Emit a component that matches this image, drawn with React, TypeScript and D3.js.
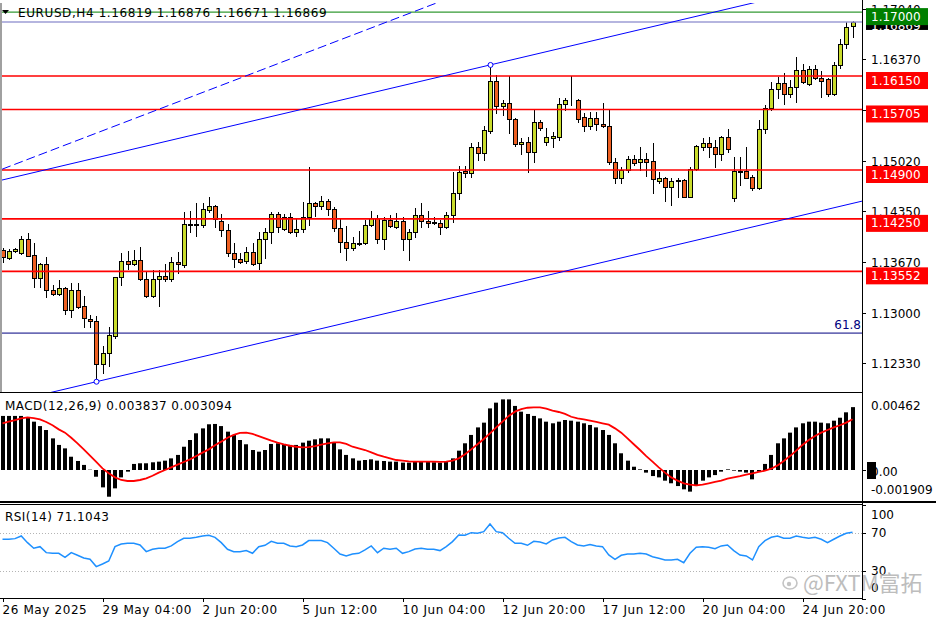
import React, { useRef, useEffect } from 'react';
import * as d3 from 'd3';

// EURUSD H4 candles (oldest first)
const opens = [
  1.13836, 1.13734, 1.13823, 1.13792, 1.13982, 1.13766, 1.13460, 1.13650, 1.13300, 1.13247,
  1.13327, 1.13038, 1.13300, 1.13091, 1.12914, 1.12896, 1.12320, 1.12462, 1.12696, 1.13473,
  1.13694, 1.13646, 1.13703, 1.13446, 1.13224, 1.13446, 1.13486, 1.13450, 1.13680, 1.13637,
  1.14182, 1.14173, 1.14169, 1.14364, 1.14417, 1.14226, 1.14098, 1.13796, 1.13712, 1.13686,
  1.13805, 1.13659, 1.13978, 1.14075, 1.14311, 1.14111, 1.14271, 1.14079, 1.14111, 1.14271,
  1.14457, 1.14421, 1.14484, 1.14377, 1.14125, 1.13946, 1.13859, 1.13916, 1.13925, 1.14169,
  1.14258, 1.13978, 1.14235, 1.14138, 1.14218, 1.13978, 1.14071, 1.14302, 1.14222, 1.14195,
  1.14191, 1.14146, 1.14297, 1.14590, 1.14887, 1.14856, 1.15202, 1.15130, 1.15423, 1.16084,
  1.15751, 1.15787, 1.15574, 1.15246, 1.15268, 1.15143, 1.15538, 1.15268, 1.15322, 1.15343,
  1.15774, 1.15827, 1.15831, 1.15601, 1.15485, 1.15588, 1.15512, 1.15485, 1.15010, 1.14790,
  1.14900, 1.15042, 1.15010, 1.15042, 1.15020, 1.14758, 1.14790, 1.14678, 1.14754, 1.14763,
  1.14545, 1.14917, 1.15210, 1.15255, 1.15210, 1.15113, 1.15343, 1.14524, 1.14873, 1.14887,
  1.14811, 1.14657, 1.15441, 1.15729, 1.15973, 1.16053, 1.15911, 1.16000, 1.16230, 1.16044,
  1.16239, 1.16120, 1.16106, 1.15911, 1.16297, 1.16576, 1.16819,
];
const highs = [
  1.13863, 1.13845, 1.13867, 1.14026, 1.14066, 1.13925, 1.13667, 1.13739, 1.13371, 1.13437,
  1.13348, 1.13393, 1.13393, 1.13224, 1.12972, 1.12958, 1.12559, 1.12816, 1.13481, 1.13800,
  1.13827, 1.13836, 1.13880, 1.13561, 1.13570, 1.13570, 1.13650, 1.13747, 1.13813, 1.14345,
  1.14355, 1.14457, 1.14457, 1.14537, 1.14435, 1.14311, 1.14182, 1.13933, 1.13792, 1.13880,
  1.13925, 1.14079, 1.14125, 1.14345, 1.14345, 1.14315, 1.14324, 1.14244, 1.14478, 1.14936,
  1.14470, 1.14554, 1.14514, 1.14412, 1.14258, 1.14155, 1.14013, 1.14093, 1.14235, 1.14359,
  1.14302, 1.14279, 1.14302, 1.14332, 1.14279, 1.14111, 1.14391, 1.14457, 1.14359, 1.14275,
  1.14235, 1.14345, 1.14877, 1.14953, 1.14953, 1.15263, 1.15276, 1.15485, 1.16297, 1.16164,
  1.15831, 1.16150, 1.15588, 1.15326, 1.15335, 1.15698, 1.15565, 1.15455, 1.15409, 1.15854,
  1.15854, 1.16150, 1.15840, 1.15654, 1.15675, 1.15675, 1.15787, 1.15698, 1.15056, 1.14936,
  1.15086, 1.15100, 1.15210, 1.15130, 1.15263, 1.14877, 1.14811, 1.14790, 1.14790, 1.14776,
  1.14944, 1.15233, 1.15322, 1.15343, 1.15299, 1.15352, 1.15441, 1.15077, 1.15077, 1.15210,
  1.14834, 1.15565, 1.15765, 1.16074, 1.16141, 1.16194, 1.16097, 1.16399, 1.16310, 1.16283,
  1.16297, 1.16217, 1.16120, 1.16340, 1.16638, 1.16872, 1.16876,
];
const lows = [
  1.13676, 1.13720, 1.13813, 1.13783, 1.13756, 1.13348, 1.13348, 1.13215, 1.13238, 1.13238,
  1.12985, 1.12941, 1.13061, 1.12816, 1.12816, 1.12084, 1.12204, 1.12293, 1.12662, 1.13367,
  1.13579, 1.13633, 1.13437, 1.13215, 1.13215, 1.13095, 1.13424, 1.13424, 1.13526, 1.13606,
  1.14071, 1.14022, 1.14146, 1.14345, 1.14138, 1.14022, 1.13756, 1.13614, 1.13667, 1.13667,
  1.13637, 1.13579, 1.13726, 1.13933, 1.14079, 1.14102, 1.14066, 1.14022, 1.14079, 1.14169,
  1.14288, 1.14377, 1.14302, 1.14093, 1.13813, 1.13703, 1.13836, 1.13903, 1.13916, 1.14155,
  1.13933, 1.13845, 1.14146, 1.14125, 1.13836, 1.13703, 1.14013, 1.14146, 1.14146, 1.14182,
  1.14049, 1.14125, 1.14212, 1.14510, 1.14811, 1.14811, 1.15033, 1.15033, 1.15388, 1.15654,
  1.15632, 1.15388, 1.15219, 1.15113, 1.14877, 1.15010, 1.15432, 1.15233, 1.15202, 1.15299,
  1.15698, 1.15765, 1.15542, 1.15423, 1.15441, 1.15432, 1.15476, 1.14980, 1.14731, 1.14731,
  1.14877, 1.14967, 1.14900, 1.14820, 1.14598, 1.14723, 1.14492, 1.14435, 1.14545, 1.14537,
  1.14537, 1.14900, 1.15166, 1.15077, 1.14936, 1.15033, 1.15143, 1.14492, 1.14701, 1.14790,
  1.14634, 1.14643, 1.15388, 1.15698, 1.15854, 1.15778, 1.15867, 1.15808, 1.16053, 1.16031,
  1.16106, 1.15875, 1.15884, 1.15898, 1.16253, 1.16519, 1.16671,
];
const closes = [
  1.13739, 1.13823, 1.13849, 1.13982, 1.13760, 1.13460, 1.13654, 1.13304, 1.13247, 1.13331,
  1.13038, 1.13300, 1.13082, 1.12928, 1.12892, 1.12320, 1.12462, 1.12705, 1.13473, 1.13694,
  1.13650, 1.13703, 1.13446, 1.13224, 1.13446, 1.13486, 1.13446, 1.13672, 1.13650, 1.14182,
  1.14173, 1.14178, 1.14377, 1.14417, 1.14244, 1.14098, 1.13792, 1.13712, 1.13680, 1.13805,
  1.13650, 1.13978, 1.14075, 1.14315, 1.14146, 1.14271, 1.14079, 1.14111, 1.14271, 1.14457,
  1.14421, 1.14484, 1.14377, 1.14125, 1.13946, 1.13859, 1.13929, 1.13929, 1.14169, 1.14258,
  1.13978, 1.14235, 1.14155, 1.14218, 1.13978, 1.14071, 1.14302, 1.14222, 1.14191, 1.14205,
  1.14146, 1.14297, 1.14590, 1.14877, 1.14856, 1.15202, 1.15130, 1.15432, 1.16084, 1.15751,
  1.15787, 1.15574, 1.15246, 1.15272, 1.15143, 1.15538, 1.15455, 1.15335, 1.15348, 1.15774,
  1.15831, 1.15831, 1.15574, 1.15485, 1.15588, 1.15512, 1.15489, 1.15010, 1.14790, 1.14900,
  1.15042, 1.14997, 1.15042, 1.15010, 1.14780, 1.14790, 1.14678, 1.14754, 1.14763, 1.14545,
  1.14917, 1.15219, 1.15259, 1.15210, 1.15113, 1.15343, 1.15175, 1.14887, 1.14887, 1.14798,
  1.14657, 1.15441, 1.15729, 1.15973, 1.16053, 1.15911, 1.16000, 1.16230, 1.16074, 1.16239,
  1.16120, 1.16088, 1.15911, 1.16297, 1.16576, 1.16806, 1.16869,
];

// MACD(12,26,9): main (histogram) and signal
const macdMain = [
  0.00330, 0.00330, 0.00330, 0.00330, 0.00321, 0.00295, 0.00268, 0.00244, 0.00193, 0.00153,
  0.00132, 0.00081, 0.00055, 0.00031, 0.00002, -0.00041, -0.00106, -0.00163, -0.00112, -0.00045,
  -0.00010, 0.00037, 0.00041, 0.00041, 0.00047, 0.00051, 0.00057, 0.00071, 0.00092, 0.00142,
  0.00183, 0.00224, 0.00254, 0.00279, 0.00281, 0.00268, 0.00234, 0.00214, 0.00183, 0.00157,
  0.00122, 0.00112, 0.00122, 0.00159, 0.00163, 0.00159, 0.00153, 0.00153, 0.00167, 0.00179,
  0.00187, 0.00193, 0.00193, 0.00167, 0.00126, 0.00092, 0.00071, 0.00057, 0.00061, 0.00065,
  0.00057, 0.00055, 0.00051, 0.00051, 0.00045, 0.00045, 0.00051, 0.00051, 0.00049, 0.00047,
  0.00045, 0.00051, 0.00071, 0.00118, 0.00163, 0.00214, 0.00260, 0.00289, 0.00376, 0.00411,
  0.00431, 0.00431, 0.00391, 0.00356, 0.00342, 0.00330, 0.00315, 0.00295, 0.00285, 0.00295,
  0.00305, 0.00301, 0.00295, 0.00285, 0.00275, 0.00260, 0.00244, 0.00214, 0.00163, 0.00102,
  0.00057, 0.00020, 0.00004, -0.00016, -0.00037, -0.00045, -0.00065, -0.00081, -0.00098, -0.00118,
  -0.00132, -0.00098, -0.00065, -0.00045, -0.00031, -0.00010, 0.00004, -0.00004, -0.00010, -0.00016,
  -0.00057, -0.00010, 0.00037, 0.00092, 0.00163, 0.00193, 0.00228, 0.00260, 0.00285, 0.00295,
  0.00295, 0.00289, 0.00285, 0.00301, 0.00319, 0.00352, 0.003837,
];
const macdSignal = [
  0.00285, 0.00295, 0.00305, 0.00315, 0.00321, 0.00317, 0.00309, 0.00293, 0.00273, 0.00248,
  0.00228, 0.00197, 0.00163, 0.00126, 0.00087, 0.00049, 0.00010, -0.00020, -0.00045, -0.00061,
  -0.00067, -0.00067, -0.00061, -0.00051, -0.00035, -0.00016, 0.00000, 0.00016, 0.00033, 0.00049,
  0.00065, 0.00085, 0.00106, 0.00126, 0.00151, 0.00173, 0.00197, 0.00214, 0.00226, 0.00228,
  0.00220, 0.00207, 0.00193, 0.00179, 0.00167, 0.00157, 0.00148, 0.00142, 0.00138, 0.00140,
  0.00146, 0.00155, 0.00163, 0.00169, 0.00169, 0.00159, 0.00142, 0.00132, 0.00122, 0.00108,
  0.00092, 0.00081, 0.00071, 0.00061, 0.00057, 0.00053, 0.00051, 0.00051, 0.00051, 0.00051,
  0.00049, 0.00051, 0.00057, 0.00071, 0.00096, 0.00126, 0.00157, 0.00189, 0.00224, 0.00260,
  0.00295, 0.00330, 0.00356, 0.00372, 0.00380, 0.00382, 0.00382, 0.00374, 0.00362, 0.00354,
  0.00342, 0.00325, 0.00315, 0.00309, 0.00301, 0.00293, 0.00285, 0.00277, 0.00254, 0.00228,
  0.00193, 0.00157, 0.00122, 0.00085, 0.00051, 0.00016, -0.00016, -0.00045, -0.00065, -0.00081,
  -0.00089, -0.00094, -0.00089, -0.00081, -0.00073, -0.00065, -0.00053, -0.00045, -0.00037, -0.00028,
  -0.00020, -0.00012, -0.00004, 0.00008, 0.00028, 0.00055, 0.00085, 0.00118, 0.00153, 0.00183,
  0.00207, 0.00228, 0.00244, 0.00260, 0.00273, 0.00289, 0.003094,
];

// RSI(14)
const rsiValues = [
  63.6, 63.6, 64.3, 67.1, 60.0, 54.0, 55.7, 49.3, 48.6, 48.6,
  44.3, 49.3, 46.5, 43.6, 42.2, 34.4, 37.2, 40.4, 55.7, 58.6,
  59.3, 59.3, 57.5, 50.4, 52.9, 54.0, 54.0, 56.5, 61.1, 64.7,
  64.7, 65.7, 67.1, 67.9, 65.7, 60.0, 52.9, 50.4, 50.4, 51.5,
  48.6, 55.7, 57.2, 61.4, 59.3, 59.3, 56.5, 55.7, 57.5, 62.2,
  62.2, 62.2, 60.0, 54.0, 47.9, 45.8, 47.9, 48.6, 52.2, 56.5,
  49.3, 54.0, 52.9, 54.0, 48.6, 50.4, 53.2, 54.0, 52.9, 52.9,
  51.5, 55.7, 61.1, 68.2, 67.9, 70.7, 70.0, 71.8, 80.0, 71.8,
  70.7, 64.7, 59.3, 59.3, 57.2, 61.4, 60.7, 58.6, 62.9, 65.0,
  65.7, 61.1, 57.5, 56.5, 57.9, 56.5, 55.7, 46.8, 42.2, 46.5,
  47.9, 47.9, 48.6, 47.9, 45.0, 43.3, 41.5, 41.5, 42.2, 38.6,
  48.6, 55.0, 55.7, 55.0, 53.6, 56.5, 57.5, 51.5, 46.8, 45.8,
  41.5, 55.7, 62.2, 65.7, 67.1, 64.7, 64.7, 67.1, 65.7, 64.7,
  65.7, 63.6, 60.0, 63.6, 67.1, 70.0, 71.1043,
];

const timeLabels = ['26 May 2025', '29 May 04:00', '2 Jun 20:00', '5 Jun 12:00', '10 Jun 04:00', '12 Jun 20:00', '17 Jun 12:00', '20 Jun 04:00', '24 Jun 20:00'];
const timeLabelBars = [0, 16, 32, 48, 64, 80, 96, 112, 128];

const priceTicks = [1.1704, 1.1637, 1.157, 1.1502, 1.1435, 1.1367, 1.13, 1.1233];
const redLevels = [1.1615, 1.15705, 1.149, 1.1425, 1.13552];
const targetLevel = 1.17;
const bidPrice = 1.16869;
const fibLevel = 1.12731;
const fibLabel = '61.8';

// trend lines, anchored on (bar index, price)
const channelUpper = [{ bar: 15, price: 1.15062 }, { bar: 78, price: 1.16297 }];
const channelLower = [{ bar: 15, price: 1.12084 }, { bar: 136, price: 1.14456 }];
const dashedLine = [{ bar: 0, price: 1.14913 }, { bar: 60, price: 1.16821 }];

const W = 936;
const H = 624;
const AXIS_X = 862;
const FONT = 'DejaVu Sans, sans-serif';

export default function App() {
  const svgRef = useRef<SVGSVGElement>(null);

  useEffect(() => {
    if (!svgRef.current) return;
    const svg = d3.select(svgRef.current);
    svg.selectAll('*').remove();

    const n = opens.length;
    const x = d3.scaleLinear().domain([0, n - 1]).range([2.5, 852.5]);
    const y = d3.scaleLinear().domain([1.17161, 1.11841]).range([0, 400]);
    const yMacd = d3.scaleLinear().domain([0, 0.00462]).range([470, 394.3]);
    const yRsi = d3.scaleLinear().domain([0, 100]).range([598.75, 505.25]);

    svg.append('rect').attr('width', W).attr('height', H).attr('fill', '#fff');

    const defs = svg.append('defs');
    const clip = (id: string, y0: number, y1: number) =>
      defs.append('clipPath').attr('id', id).append('rect')
        .attr('x', 0).attr('y', y0).attr('width', AXIS_X).attr('height', y1 - y0);
    clip('cMain', 3, 392);
    clip('cMacd', 394, 501);
    clip('cRsi', 504, 598);

    // ---------- main panel ----------
    const main = svg.append('g').attr('clip-path', 'url(#cMain)');
    const px = (i: number) => Math.round(x(i)) + 0.5;

    const candles = d3.range(n).map(i => ({ i, o: opens[i], h: highs[i], l: lows[i], c: closes[i] }));

    main.selectAll('line.wick').data(candles).join('line')
      .attr('x1', d => px(d.i)).attr('x2', d => px(d.i))
      .attr('y1', d => Math.round(y(d.h))).attr('y2', d => Math.round(y(d.l)) + 1)
      .attr('stroke', '#000').attr('stroke-width', 1);

    main.selectAll('rect.body').data(candles).join('rect')
      .attr('x', d => px(d.i) - 2)
      .attr('y', d => Math.round(y(Math.max(d.o, d.c))) + 0.5)
      .attr('width', 4)
      .attr('height', d => Math.max(0, Math.round(y(Math.min(d.o, d.c))) - Math.round(y(Math.max(d.o, d.c)))))
      .attr('fill', d => (d.c >= d.o ? '#C9DC2C' : '#EE6022'))
      .attr('stroke', '#000').attr('stroke-width', 1);

    // horizontal levels
    const hline = (p: number, color: string, w: number) =>
      main.append('line').attr('x1', 0).attr('x2', AXIS_X)
        .attr('y1', y(p)).attr('y2', y(p))
        .attr('stroke', color).attr('stroke-width', w);
    hline(fibLevel, '#000080', 1);
    redLevels.forEach(p => hline(p, '#FF0000', 1.6));
    hline(targetLevel, '#008000', 1);
    hline(bidPrice, '#9C9CD4', 1.6);

    // trend lines
    const ray = (pts: { bar: number; price: number }[], dash?: string) => {
      const slope = (pts[1].price - pts[0].price) / (pts[1].bar - pts[0].bar);
      const b0 = -2, b1 = n + 4;
      main.append('line')
        .attr('x1', x(b0)).attr('y1', y(pts[0].price + slope * (b0 - pts[0].bar)))
        .attr('x2', x(b1)).attr('y2', y(pts[0].price + slope * (b1 - pts[0].bar)))
        .attr('stroke', '#0000FF').attr('stroke-width', 1)
        .attr('stroke-dasharray', dash || null);
    };
    ray(channelUpper);
    ray(channelLower);
    ray(dashedLine, '9,4');

    [channelUpper[1], channelLower[0]].forEach(a => {
      main.append('circle').attr('cx', px(a.bar)).attr('cy', y(a.price)).attr('r', 2.5)
        .attr('fill', '#fff').attr('stroke', '#0000FF').attr('stroke-width', 1);
    });

    svg.append('text').attr('x', AXIS_X - 1).attr('y', y(fibLevel) - 8)
      .attr('text-anchor', 'end').attr('dominant-baseline', 'central')
      .attr('font-family', FONT).attr('font-size', 12).attr('fill', '#000080').text(fibLabel);

    // header
    svg.append('path').attr('d', 'M2,10 L9,10 L5.5,14 Z').attr('fill', '#000');
    svg.append('text').attr('x', 18).attr('y', 13).attr('dominant-baseline', 'central')
      .attr('font-family', FONT).attr('font-size', 12).attr('letter-spacing', 0.6).attr('fill', '#000')
      .text(`EURUSD,H4  ${opens[n - 1].toFixed(5)} ${highs[n - 1].toFixed(5)} ${lows[n - 1].toFixed(5)} ${closes[n - 1].toFixed(5)}`);

    // ---------- MACD panel ----------
    const macd = svg.append('g').attr('clip-path', 'url(#cMacd)');
    macd.selectAll('rect').data(macdMain).join('rect')
      .attr('x', (_, i) => Math.round(x(i)) - 2)
      .attr('y', d => Math.min(yMacd(d), yMacd(0)))
      .attr('width', 4)
      .attr('height', d => Math.abs(yMacd(d) - yMacd(0)))
      .attr('fill', '#000');
    macd.append('path').datum(macdSignal)
      .attr('d', d3.line<number>().x((_, i) => x(i)).y(d => yMacd(d)))
      .attr('fill', 'none').attr('stroke', '#FF0000').attr('stroke-width', 1.8);
    svg.append('text').attr('x', 5).attr('y', 406).attr('dominant-baseline', 'central')
      .attr('font-family', FONT).attr('font-size', 12).attr('letter-spacing', 0.45).attr('fill', '#000')
      .text(`MACD(12,26,9) ${macdMain[n - 1].toFixed(6)} ${macdSignal[n - 1].toFixed(6)}`);

    // ---------- RSI panel ----------
    const rsi = svg.append('g').attr('clip-path', 'url(#cRsi)');
    [70, 30].forEach(v => {
      rsi.append('line').attr('x1', 0).attr('x2', AXIS_X)
        .attr('y1', Math.round(yRsi(v)) + 0.5).attr('y2', Math.round(yRsi(v)) + 0.5)
        .attr('stroke', '#B4B4B4').attr('stroke-dasharray', '1,2');
    });
    rsi.append('path').datum(rsiValues)
      .attr('d', d3.line<number>().x((_, i) => x(i)).y(d => yRsi(d)))
      .attr('fill', 'none').attr('stroke', '#1E90FF').attr('stroke-width', 1.5);
    svg.append('text').attr('x', 5).attr('y', 517).attr('dominant-baseline', 'central')
      .attr('font-family', FONT).attr('font-size', 12).attr('letter-spacing', 0.45).attr('fill', '#000')
      .text(`RSI(14) ${rsiValues[n - 1].toFixed(4)}`);

    // ---------- right price axis ----------
    const ax = svg.append('g').attr('font-family', FONT).attr('font-size', 12);
    const tick = (yy: number) =>
      ax.append('line').attr('x1', AXIS_X).attr('x2', AXIS_X + 4)
        .attr('y1', Math.round(yy) + 0.5).attr('y2', Math.round(yy) + 0.5).attr('stroke', '#000');
    const label = (yy: number, txt: string, fill = '#000') =>
      ax.append('text').attr('x', 871).attr('y', yy).attr('dominant-baseline', 'central')
        .attr('fill', fill).text(txt);

    priceTicks.forEach(p => { tick(y(p)); label(y(p) + 1, p.toFixed(5)); });

    const boxLabel = (p: number, bg: string, h = 17) => {
      ax.append('rect').attr('x', 866).attr('y', y(p) - 4).attr('width', 62).attr('height', h).attr('fill', bg);
      label(y(p) + 4.5, p.toFixed(5), '#fff');
    };
    boxLabel(bidPrice, '#000', 12);
    boxLabel(targetLevel, '#008000');
    redLevels.forEach(p => boxLabel(p, '#FF0000'));

    // MACD axis
    tick(yMacd(0));
    ax.append('rect').attr('x', 867).attr('y', 462).attr('width', 9).attr('height', 17).attr('fill', '#000');
    label(yMacd(0.00462) + 12, '0.00462');
    label(yMacd(0) + 2, '0.00');
    label(490, '-0.001909');

    // RSI axis
    [100, 70, 30, 0].forEach(v => tick(yRsi(v)));
    label(515, '100');
    label(yRsi(70), '70');
    label(yRsi(30), '30');
    label(588, '0');

    // ---------- time axis ----------
    timeLabelBars.forEach((b, k) => {
      ax.append('line').attr('x1', px(b)).attr('x2', px(b)).attr('y1', 598).attr('y2', 602).attr('stroke', '#000');
      ax.append('text').attr('x', px(b) - 1).attr('y', 610).attr('dominant-baseline', 'central')
        .attr('letter-spacing', 0.6).attr('fill', '#000').text(timeLabels[k]);
    });

    // watermark
    const wm = svg.append('g').attr('fill', '#BDBDBD').attr('stroke', 'none');
    wm.append('ellipse').attr('cx', 790).attr('cy', 583).attr('rx', 7).attr('ry', 6)
      .attr('fill', 'none').attr('stroke', '#C4C4C4').attr('stroke-width', 1.6);
    wm.append('circle').attr('cx', 789).attr('cy', 584).attr('r', 2.2).attr('fill', '#C4C4C4');
    wm.append('text').attr('x', 803).attr('y', 581).attr('dominant-baseline', 'central')
      .attr('font-family', '"Noto Sans CJK SC", "Noto Sans", sans-serif').attr('font-size', 22)
      .text('@FXTM富拓');

    // frames
    const fr = svg.append('g').attr('stroke', '#000').attr('stroke-width', 1).attr('shape-rendering', 'crispEdges');
    fr.append('line').attr('x1', AXIS_X + 0.5).attr('x2', AXIS_X + 0.5).attr('y1', 0).attr('y2', 599);
    fr.append('line').attr('x1', 0).attr('x2', AXIS_X).attr('y1', 392.5).attr('y2', 392.5);
    fr.append('line').attr('x1', 0).attr('x2', W).attr('y1', 501.5).attr('y2', 501.5).attr('stroke-width', 2);
    fr.append('line').attr('x1', 0).attr('x2', AXIS_X).attr('y1', 504.5).attr('y2', 504.5);
    fr.append('line').attr('x1', 0).attr('x2', AXIS_X).attr('y1', 598.5).attr('y2', 598.5);
    fr.append('line').attr('x1', 1).attr('x2', 1).attr('y1', 3).attr('y2', 392).attr('stroke', '#A0A0A0').attr('stroke-width', 2);
  }, []);

  return (
    <div style={{ position: 'absolute', left: 0, top: 0 }}>
      <svg ref={svgRef} width={W} height={H} style={{ display: 'block' }} />
    </div>
  );
}
